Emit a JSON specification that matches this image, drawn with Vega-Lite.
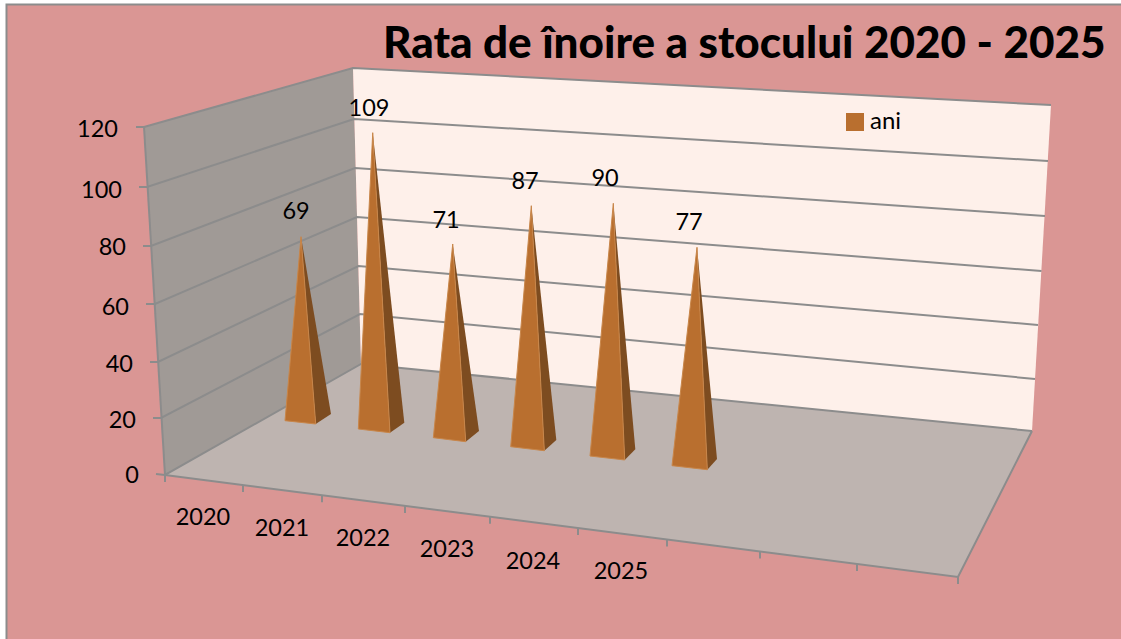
{
"$schema":"https://vega.github.io/schema/vega-lite/v6.json",
"width":1121,"height":639,"padding":0,"autosize":{"type":"none"},"background":"#ffffff",
"view":{"stroke":null},
"title":{"text":"Rata de înoire a stocului 2020 - 2025","font":"Lato","fontSize":44,"fontWeight":900,"color":"#000000","anchor":"start","frame":"group","dx":383,"dy":44,"offset":-58,"baseline":"alphabetic","zindex":1},
"datasets":{
"panels":[
{"part":"frame","i":0,"x":1.625,"y":156.5},{"part":"frame","i":1,"x":280.25,"y":156.5},{"part":"frame","i":2,"x":280.25,"y":-55},{"part":"frame","i":3,"x":1.625,"y":-55},
{"part":"leftwall","i":0,"x":36,"y":115.67},{"part":"leftwall","i":1,"x":88.25,"y":135.33},{"part":"leftwall","i":2,"x":90.25,"y":36.67},{"part":"leftwall","i":3,"x":41.25,"y":-0.33},
{"part":"backwall","i":0,"x":88.25,"y":135.33},{"part":"backwall","i":1,"x":262.75,"y":123},{"part":"backwall","i":2,"x":258,"y":14.33},{"part":"backwall","i":3,"x":90.25,"y":36.67},
{"part":"floor","i":0,"x":41.25,"y":-0.33},{"part":"floor","i":1,"x":90.25,"y":36.67},{"part":"floor","i":2,"x":258,"y":14.33},{"part":"floor","i":3,"x":239.5,"y":-34.33}
],
"lines":[
{"id":"border","i":0,"x":1.625,"y":-55},{"id":"border","i":1,"x":1.625,"y":156.5},{"id":"border","i":2,"x":280.25,"y":156.5},
{"id":"g120","i":0,"x":34,"y":115.67},{"id":"g120","i":1,"x":36,"y":115.67},{"id":"g120","i":2,"x":88.25,"y":135.33},{"id":"g120","i":3,"x":262.75,"y":123},
{"id":"g100","i":0,"x":34.75,"y":95.67},{"id":"g100","i":1,"x":36.75,"y":95.67},{"id":"g100","i":2,"x":88.5,"y":118.33},{"id":"g100","i":3,"x":262,"y":104.33},
{"id":"g80","i":0,"x":35.75,"y":76},{"id":"g80","i":1,"x":37.75,"y":76},{"id":"g80","i":2,"x":88.75,"y":102},{"id":"g80","i":3,"x":261.25,"y":86},
{"id":"g60","i":0,"x":36.5,"y":56.67},{"id":"g60","i":1,"x":38.75,"y":56.67},{"id":"g60","i":2,"x":89.25,"y":85.67},{"id":"g60","i":3,"x":260.375,"y":67.67},
{"id":"g40","i":0,"x":37.5,"y":37.33},{"id":"g40","i":1,"x":39.5,"y":37.33},{"id":"g40","i":2,"x":89.625,"y":69.33},{"id":"g40","i":3,"x":259.5,"y":49.67},
{"id":"g20","i":0,"x":38.25,"y":18.67},{"id":"g20","i":1,"x":40.25,"y":18.67},{"id":"g20","i":2,"x":90,"y":53.33},{"id":"g20","i":3,"x":258.75,"y":31.67},
{"id":"g0","i":0,"x":39,"y":0},{"id":"g0","i":1,"x":41.25,"y":-0.33},{"id":"g0","i":2,"x":90.25,"y":36.67},{"id":"g0","i":3,"x":258,"y":14.33},
{"id":"wall-edge","i":0,"x":36,"y":115.67},{"id":"wall-edge","i":1,"x":41.25,"y":-0.33},
{"id":"front-edge","i":0,"x":41.25,"y":-0.33},{"id":"front-edge","i":1,"x":239.5,"y":-34.33},{"id":"front-edge","i":2,"x":258,"y":14.33}
],
"ticks":[
{"x":41.25,"y":-0.33,"y2":-2.67},{"x":60.75,"y":-3.67,"y2":-6},{"x":80.5,"y":-7.07,"y2":-9.4},{"x":101.25,"y":-10.63,"y2":-12.97},{"x":122.5,"y":-14.27,"y2":-16.6},{"x":144.5,"y":-18.03,"y2":-20.37},{"x":166.75,"y":-21.87,"y2":-24.2},{"x":190,"y":-25.83,"y2":-28.17},{"x":214.25,"y":-30,"y2":-32.33},{"x":239.5,"y":-34.33,"y2":-36.67}
],
"front":[
{"series":"ani","year":"2020","i":0,"x":75.25,"y":79.1},{"series":"ani","year":"2020","i":1,"x":78.93,"y":16.67},{"series":"ani","year":"2020","i":2,"x":71.25,"y":17.77},{"series":"ani","year":"2020","i":3,"x":75.25,"y":79.1},
{"series":"ani","year":"2021","i":0,"x":93.18,"y":113.77},{"series":"ani","year":"2021","i":1,"x":97.5,"y":13.77},{"series":"ani","year":"2021","i":2,"x":89.58,"y":15},{"series":"ani","year":"2021","i":3,"x":93.18,"y":113.77},
{"series":"ani","year":"2022","i":0,"x":113.18,"y":76.67},{"series":"ani","year":"2022","i":1,"x":116.43,"y":10.77},{"series":"ani","year":"2022","i":2,"x":108.33,"y":12.1},{"series":"ani","year":"2022","i":3,"x":113.18,"y":76.67},
{"series":"ani","year":"2023","i":0,"x":132.83,"y":89.43},{"series":"ani","year":"2023","i":1,"x":136.08,"y":7.77},{"series":"ani","year":"2023","i":2,"x":127.68,"y":9.1},{"series":"ani","year":"2023","i":3,"x":132.83,"y":89.43},
{"series":"ani","year":"2024","i":0,"x":153.33,"y":90.23},{"series":"ani","year":"2024","i":1,"x":156.18,"y":4.67},{"series":"ani","year":"2024","i":2,"x":147.5,"y":6},{"series":"ani","year":"2024","i":3,"x":153.33,"y":90.23},
{"series":"ani","year":"2025","i":0,"x":174.25,"y":75.57},{"series":"ani","year":"2025","i":1,"x":176.83,"y":1.43},{"series":"ani","year":"2025","i":2,"x":168,"y":2.77},{"series":"ani","year":"2025","i":3,"x":174.25,"y":75.57}
],
"side":[
{"year":"2020","i":0,"x":75.25,"y":79.1},{"year":"2020","i":1,"x":82.75,"y":20},{"year":"2020","i":2,"x":78.93,"y":16.67},
{"year":"2021","i":0,"x":93.18,"y":113.77},{"year":"2021","i":1,"x":101.08,"y":17.1},{"year":"2021","i":2,"x":97.5,"y":13.77},
{"year":"2022","i":0,"x":113.18,"y":76.67},{"year":"2022","i":1,"x":119.75,"y":14.33},{"year":"2022","i":2,"x":116.43,"y":10.77},
{"year":"2023","i":0,"x":132.83,"y":89.43},{"year":"2023","i":1,"x":139.08,"y":11.33},{"year":"2023","i":2,"x":136.08,"y":7.77},
{"year":"2024","i":0,"x":153.33,"y":90.23},{"year":"2024","i":1,"x":158.83,"y":8.23},{"year":"2024","i":2,"x":156.18,"y":4.67},
{"year":"2025","i":0,"x":174.25,"y":75.57},{"year":"2025","i":1,"x":179.25,"y":5},{"year":"2025","i":2,"x":176.83,"y":1.43}
],
"values":[
{"year":"2020","value":69,"x":74,"y":87.67},{"year":"2021","value":109,"x":92.25,"y":122.33},{"year":"2022","value":71,"x":111.5,"y":85},{"year":"2023","value":87,"x":131.25,"y":98},{"year":"2024","value":90,"x":151.25,"y":99},{"year":"2025","value":77,"x":172.25,"y":84.33}
],
"years":[
{"year":"2020","x":50.75,"y":-14.33},{"year":"2021","x":70.5,"y":-17.67},{"year":"2022","x":90.75,"y":-21.33},{"year":"2023","x":111.75,"y":-24.67},{"year":"2024","x":133.25,"y":-28.67},{"year":"2025","x":155.25,"y":-32.33}
],
"scale":[
{"tick":"120","x":29.5,"y":115.33},{"tick":"100","x":30.5,"y":95},{"tick":"80","x":31.5,"y":75.67},{"tick":"60","x":32.25,"y":56},{"tick":"40","x":33.25,"y":37},{"tick":"20","x":34,"y":18.33},{"tick":"0","x":34.75,"y":-0.33}
]
},
"encoding":{
"x":{"field":"x","type":"quantitative","scale":{"domain":[0,280.25],"nice":false,"zero":false},"axis":null},
"y":{"field":"y","type":"quantitative","scale":{"domain":[-55,158],"nice":false,"zero":false},"axis":null}
},
"resolve":{"scale":{"fill":"independent"},"legend":{"fill":"independent"}},
"layer":[
{"data":{"name":"panels"},"mark":{"type":"line","filled":true,"strokeWidth":0,"clip":false},
"encoding":{"detail":{"field":"part"},"order":{"field":"i"},"fill":{"field":"part","type":"nominal","legend":null,"scale":{"domain":["frame","leftwall","backwall","floor"],"range":["#DA9694","#A09A96","#FEF0EA","#BEB4B0"]}}}},
{"data":{"name":"lines"},"mark":{"type":"line","color":"#8C8C8C","strokeWidth":2},"encoding":{"detail":{"field":"id"},"order":{"field":"i"}}},
{"data":{"name":"ticks"},"mark":{"type":"rule","color":"#8C8C8C","strokeWidth":2},"encoding":{"y2":{"field":"y2"}}},
{"data":{"name":"side"},"mark":{"type":"line","filled":true,"fill":"#7D4C20","strokeWidth":0},"encoding":{"detail":{"field":"year"},"order":{"field":"i"}}},
{"data":{"name":"front"},"mark":{"type":"line","filled":true,"stroke":"#C8864A","strokeWidth":1},
"encoding":{"detail":{"field":"year"},"order":{"field":"i"},"fill":{"field":"series","type":"nominal","scale":{"domain":["ani"],"range":["#B96F2F"]},
"legend":{"title":null,"orient":"none","legendX":843,"legendY":110,"padding":0,"symbolType":"square","symbolSize":324,"symbolStrokeWidth":0,"symbolFillColor":"#B96F2F","labelFont":"Lato","labelFontSize":24,"labelColor":"#000000","labelOffset":3,"zindex":1}}}},
{"data":{"name":"values"},"mark":{"type":"text","font":"Lato","fontSize":23.5,"color":"#000000","align":"center","baseline":"middle","dy":1.5},"encoding":{"text":{"field":"value","type":"quantitative"}}},
{"data":{"name":"years"},"mark":{"type":"text","font":"Lato","fontSize":23.5,"color":"#000000","align":"center","baseline":"middle","dy":1.5},"encoding":{"text":{"field":"year","type":"nominal"}}},
{"data":{"name":"scale"},"mark":{"type":"text","font":"Lato","fontSize":23.5,"color":"#000000","align":"right","baseline":"middle","dy":1.5},"encoding":{"text":{"field":"tick","type":"nominal"}}}
]
}
